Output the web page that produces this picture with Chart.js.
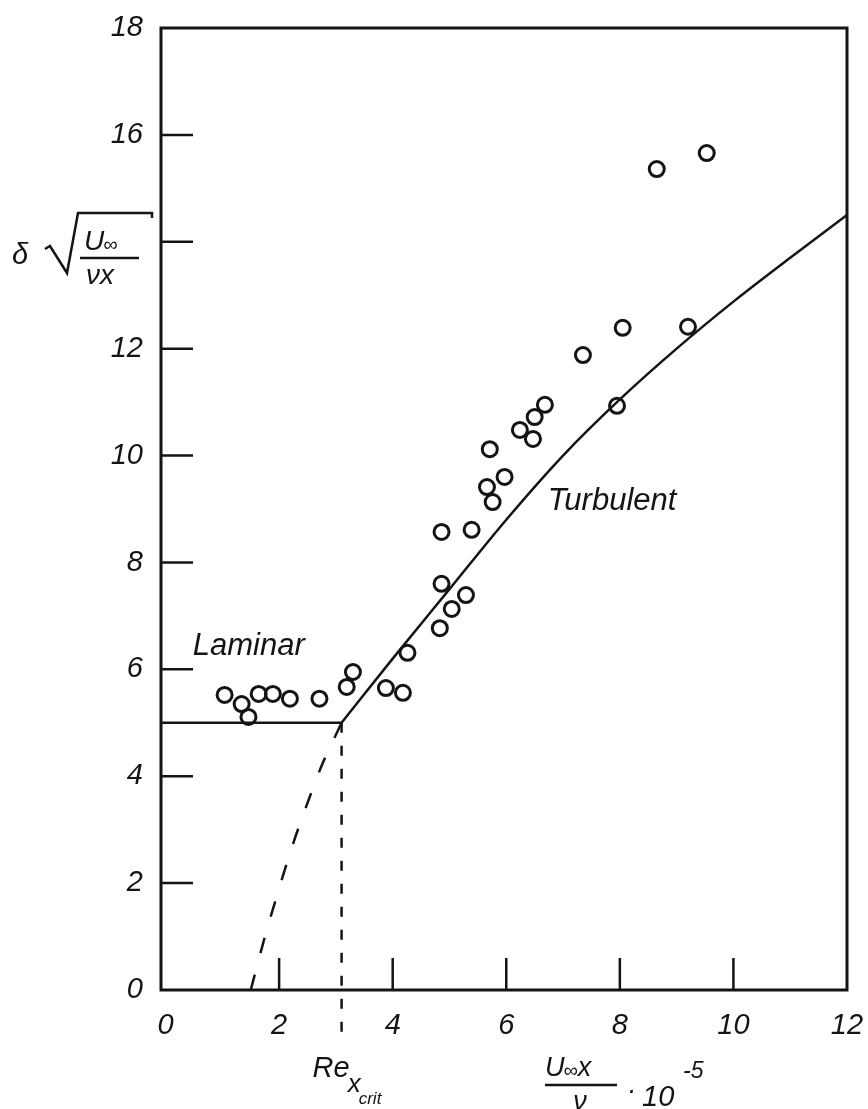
<!DOCTYPE html>
<html><head><meta charset="utf-8">
<script src="https://cdn.jsdelivr.net/npm/chart.js@4.4.1/dist/chart.umd.min.js"></script>
<style>html,body{margin:0;padding:0;background:#fff}#wrap{position:relative;width:868px;height:1109px}</style>
</head><body><div id="wrap"><canvas id="c" width="868" height="1109"></canvas></div>
<script>
// tick values and labels
const xTicks = [0, 2, 4, 6, 8, 10, 12];
const xTickLabels = ['0', '2', '4', '6', '8', '10', '12'];
const yTicks = [0, 2, 4, 6, 8, 10, 12, 14, 16, 18];
const yTickLabels = ['0', '2', '4', '6', '8', '10', '12', '', '16', '18'];
// measured points
const pointsX = [1.04,1.34,1.46,1.64,1.89,2.19,2.71,3.19,3.30,3.88,4.18,4.26,4.83,5.04,5.29,4.86,4.86,5.39,5.76,5.66,5.97,5.71,6.47,6.24,6.50,6.68,7.35,8.05,7.95,9.20,8.65,9.53];
const pointsY = [5.52,5.35,5.11,5.54,5.54,5.45,5.45,5.67,5.95,5.65,5.56,6.31,6.77,7.13,7.39,7.60,8.57,8.61,9.13,9.41,9.60,10.12,10.31,10.48,10.72,10.95,11.88,12.39,10.93,12.41,15.36,15.66];
// laminar line
const laminarX = [-0.08, 3.1];
const laminarY = [5, 5];
// turbulent curve
const turbX = [3.1, 4, 5, 6, 7, 8, 9, 10, 11, 12];
const turbY = [5, 6.2, 7.5, 8.8, 10.0, 11.05, 12.0, 12.88, 13.7, 14.5];
// dashed extrapolation of turbulent curve
const extrapX = [1.5, 1.75, 2.0, 2.25, 2.5, 2.75, 3.1];
const extrapY = [0, 1.0, 1.9, 2.75, 3.5, 4.2, 5];
// critical Reynolds marker
const critX = [3.1, 3.1];
const critY = [5, -0.85];

const INK = '#141414';
const FONT = "'Liberation Sans', Arial, sans-serif";
const pts = (xs, ys) => xs.map((x, i) => ({x, y: ys[i]}));

const framePlugin = {
  id: 'frame',
  afterDraw(chart) {
    const {ctx, chartArea: a, scales: {x, y}} = chart;
    ctx.save();
    ctx.strokeStyle = INK;
    ctx.lineWidth = 3;
    ctx.strokeRect(a.left, a.top, a.right - a.left, a.bottom - a.top);
    ctx.lineWidth = 2.5;
    ctx.beginPath();
    xTicks.slice(1, -1).forEach(v => {
      const px = x.getPixelForValue(v);
      ctx.moveTo(px, a.bottom); ctx.lineTo(px, a.bottom - 32);
    });
    yTicks.slice(1, -1).forEach(v => {
      const py = y.getPixelForValue(v);
      ctx.moveTo(a.left, py); ctx.lineTo(a.left + 32, py);
    });
    ctx.stroke();

    ctx.fillStyle = INK;
    ctx.textBaseline = 'alphabetic';
    ctx.textAlign = 'left';
    // in-plot labels
    ctx.font = `italic 31px ${FONT}`;
    ctx.fillText('Laminar', x.getPixelForValue(0.48), y.getPixelForValue(6.27));
    ctx.fillText('Turbulent', x.getPixelForValue(6.73), y.getPixelForValue(8.98));

    // Re_x_crit
    const rx = x.getPixelForValue(2.59);
    ctx.font = `italic 29px ${FONT}`;
    ctx.fillText('Re', rx, 1077);
    const reW = ctx.measureText('Re').width;
    ctx.font = `italic 26px ${FONT}`;
    ctx.fillText('x', rx + reW - 2, 1092);
    const xW = ctx.measureText('x').width;
    ctx.font = `italic 17px ${FONT}`;
    ctx.fillText('crit', rx + reW + xW - 4, 1104);

    // x-axis title: U∞x / ν · 10^-5
    ctx.font = `italic 27px ${FONT}`;
    ctx.fillText('U', 545, 1076);
    let w = ctx.measureText('U').width;
    ctx.font = `italic 20px ${FONT}`;
    ctx.fillText('\u221E', 545 + w - 1, 1077);
    let w2 = ctx.measureText('\u221E').width;
    ctx.font = `italic 27px ${FONT}`;
    ctx.fillText('x', 545 + w + w2 - 1, 1076);
    ctx.lineWidth = 2.5;
    ctx.beginPath(); ctx.moveTo(545, 1085); ctx.lineTo(617, 1085); ctx.stroke();
    ctx.textAlign = 'center';
    ctx.fillText('\u03BD', 580, 1110);
    ctx.textAlign = 'left';
    ctx.font = `italic 27px ${FONT}`;
    ctx.fillText('\u00B7', 627, 1099);
    ctx.font = `italic 29px ${FONT}`;
    ctx.fillText('10', 642, 1106);
    ctx.font = `italic 23px ${FONT}`;
    ctx.fillText('-5', 683, 1078);

    // y-axis title: δ √(U∞ / νx)
    ctx.font = `italic 29px ${FONT}`;
    ctx.fillText('\u03B4', 12, 264);
    ctx.lineWidth = 2.5;
    ctx.beginPath();
    ctx.moveTo(45, 249); ctx.lineTo(50, 246); ctx.lineTo(67, 273); ctx.lineTo(78, 213);
    ctx.lineTo(152, 213); ctx.lineTo(152, 218);
    ctx.stroke();
    ctx.font = `italic 28px ${FONT}`;
    ctx.fillText('U', 84, 250);
    w = ctx.measureText('U').width;
    ctx.font = `italic 20px ${FONT}`;
    ctx.fillText('\u221E', 84 + w - 1, 251);
    ctx.beginPath(); ctx.moveTo(80, 258); ctx.lineTo(139, 258); ctx.stroke();
    ctx.font = `italic 28px ${FONT}`;
    ctx.fillText('\u03BDx', 86, 284);
    ctx.restore();
  }
};

const tickFont = {family: FONT, size: 29, style: 'italic'};

new Chart(document.getElementById('c'), {
  type: 'scatter',
  data: {
    datasets: [
      {data: pts(laminarX, laminarY), showLine: true, borderColor: INK, borderWidth: 2.5, pointRadius: 0},
      {data: pts(turbX, turbY), showLine: true, borderColor: INK, borderWidth: 2.5, pointRadius: 0, cubicInterpolationMode: 'monotone'},
      {data: pts(extrapX, extrapY), showLine: true, borderColor: INK, borderWidth: 2.5, pointRadius: 0, borderDash: [16, 22], cubicInterpolationMode: 'monotone'},
      {data: pts(critX, critY), showLine: true, borderColor: INK, borderWidth: 2.5, pointRadius: 0, borderDash: [10, 13], clip: false},
      {data: pts(pointsX, pointsY), showLine: false, borderColor: INK, backgroundColor: 'rgba(255,255,255,0)', pointRadius: 7.5, pointBorderWidth: 3, pointStyle: 'circle'}
    ]
  },
  options: {
    responsive: false,
    animation: false,
    events: [],
    layout: {padding: {top: 28, right: 21, left: 0, bottom: 0}},
    plugins: {legend: {display: false}, tooltip: {enabled: false}},
    scales: {
      x: {
        type: 'linear', min: -0.08, max: 12,
        afterBuildTicks: s => { s.ticks = xTicks.map(v => ({value: v})); },
        afterFit: s => { s.height = 119; s.paddingLeft = 0; s.paddingRight = 0; },
        grid: {display: false, drawTicks: false},
        border: {display: false},
        ticks: {font: tickFont, color: INK, padding: 19, maxRotation: 0, autoSkip: false,
                callback: v => xTickLabels[xTicks.indexOf(v)]}
      },
      y: {
        type: 'linear', min: 0, max: 18,
        afterBuildTicks: s => { s.ticks = yTicks.map(v => ({value: v})); },
        afterFit: s => { s.width = 161; s.paddingTop = 0; s.paddingBottom = 0; },
        grid: {display: false, drawTicks: false},
        border: {display: false},
        ticks: {font: tickFont, color: INK, padding: 18, autoSkip: false,
                callback: v => yTickLabels[yTicks.indexOf(v)]}
      }
    }
  },
  plugins: [framePlugin]
});
</script></body></html>
